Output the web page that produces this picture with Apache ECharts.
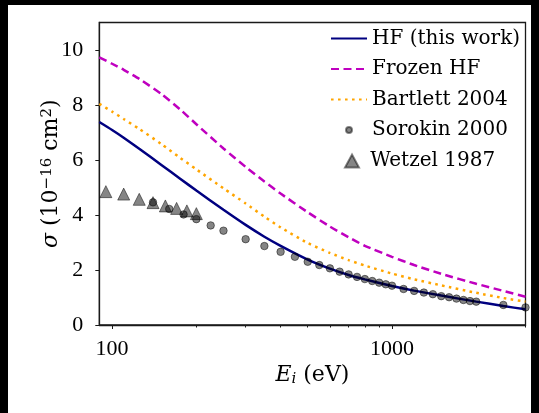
<!DOCTYPE html>
<html><head><meta charset="utf-8">
<script src="https://cdn.jsdelivr.net/npm/echarts@6/dist/echarts.min.js"></script>
<style>
html,body{margin:0;padding:0;background:#000;width:539px;height:413px;overflow:hidden;}
#c{position:absolute;left:8px;top:5px;width:523px;height:408px;background:#fff;}
</style></head><body><div id="c"></div>
<script>
// ---- data ----
const curveE       = [90,100,110,125,150,175,200,250,300,350,400,500,600,700,800,1000,1200,1500,2000,2500,3000];
const hfVals       = [7.38,7.09,6.81,6.41,5.82,5.32,4.89,4.19,3.64,3.21,2.88,2.38,2.05,1.82,1.66,1.42,1.25,1.07,0.85,0.69,0.57];
const frozenVals   = [9.73,9.50,9.28,8.95,8.40,7.84,7.30,6.42,5.75,5.22,4.78,4.10,3.58,3.19,2.88,2.48,2.18,1.86,1.50,1.24,1.03];
const bartlettVals = [8.04,7.76,7.49,7.13,6.58,6.08,5.66,4.97,4.42,3.94,3.55,2.98,2.62,2.36,2.16,1.87,1.66,1.44,1.17,0.98,0.85];
const sorokinE     = [140,160,180,200,225,250,300,350,400,450,500,550,600,650,700,750,800,850,900,950,1000,1100,1200,1300,1400,1500,1600,1700,1800,1900,2000,2500,3000];
const sorokinVals  = [4.46,4.22,4.02,3.85,3.62,3.43,3.12,2.87,2.66,2.48,2.30,2.18,2.06,1.94,1.84,1.75,1.67,1.60,1.54,1.48,1.43,1.31,1.24,1.18,1.12,1.05,1.01,0.96,0.91,0.87,0.85,0.73,0.64];
const wetzelE      = [95,110,125,140,155,170,185,200];
const wetzelVals   = [4.85,4.76,4.57,4.45,4.33,4.24,4.15,4.05];
const xMajorTicks  = [100,1000];
const xMinorTicks  = [200,300,400,500,600,700,800,900,2000,3000];
const yTicks       = [0,2,4,6,8,10];
const names = ['HF (this work)','Frozen HF','Bartlett 2004','Sorokin 2000','Wetzel 1987'];

const zip = (a,b) => a.map((v,i)=>[v,b[i]]);
const serif = 'Liberation Serif';
const lserif = 'DejaVu Serif';
const ink = '#1a1a1a';

const chart = echarts.init(document.getElementById('c'), null, {renderer:'canvas'});
const lineCommon = {type:'line', showSymbol:false, symbol:'none', smooth:0.2, clip:true, z:2};
const markerStyle = {color:'rgba(0,0,0,0.6)', borderColor:'rgba(0,0,0,0.6)', borderWidth:1};
const legendText = {fontFamily:lserif, fontSize:20, color:'#000', lineHeight:21};

chart.setOption({
  backgroundColor:'#fff',
  animation:false,
  grid:{left:91.3, top:17.5, width:426.2, height:302.5, show:true, borderColor:ink, borderWidth:1.3, backgroundColor:'transparent'},
  xAxis:[{
    type:'log', logBase:10, min:90, max:3000, position:'bottom',
    name:'{it|E}{sub|i} (eV)', nameLocation:'middle', nameGap:38, nameMoveOverlap:false,
    nameTextStyle:{fontFamily:lserif, fontSize:22, lineHeight:24, color:'#000',
      rich:{it:{fontFamily:lserif, fontStyle:'italic', fontSize:22, lineHeight:24, color:'#000'},
            sub:{fontFamily:lserif, fontStyle:'italic', fontSize:15, lineHeight:14, color:'#000', verticalAlign:'bottom'}}},
    axisLine:{show:true, lineStyle:{color:ink, width:1.3}},
    axisTick:{show:true, inside:false, length:4, lineStyle:{color:ink, width:1}, customValues:xMajorTicks},
    axisLabel:{show:true, customValues:xMajorTicks, margin:13, fontFamily:serif, fontSize:22, color:'#000', formatter:v=>String(v)},
    splitLine:{show:false}, minorTick:{show:false}
  },{
    type:'log', logBase:10, min:90, max:3000, position:'bottom',
    axisLine:{show:false},
    axisTick:{show:true, inside:false, length:2.5, lineStyle:{color:ink, width:1}, customValues:xMinorTicks},
    axisLabel:{show:false}, splitLine:{show:false}
  }],
  yAxis:{
    type:'value', min:0, max:11,
    name:'{it|σ} (10{sup|−16} cm{sup|2})', nameLocation:'middle', nameGap:36, nameMoveOverlap:false,
    nameTextStyle:{fontFamily:lserif, fontSize:22, lineHeight:24, color:'#000',
      rich:{it:{fontFamily:lserif, fontStyle:'italic', fontSize:22, lineHeight:24, color:'#000'},
            sup:{fontFamily:lserif, fontSize:15, lineHeight:4, color:'#000', verticalAlign:'top'}}},
    axisLine:{show:true, lineStyle:{color:ink, width:1.3}},
    axisTick:{show:true, inside:false, length:4, lineStyle:{color:ink, width:1}, customValues:yTicks},
    axisLabel:{show:true, customValues:yTicks, margin:16, fontFamily:serif, fontSize:22, color:'#000'},
    splitLine:{show:false}
  },
  legend:[{
    data:[
      {name:names[0], itemStyle:{opacity:0}},
      {name:names[1], itemStyle:{opacity:0}},
      {name:names[2], itemStyle:{opacity:0}},
      {name:names[3]}
    ],
    orient:'vertical', left:322, top:23, padding:0,
    itemWidth:36, itemHeight:6, itemGap:9.5,
    textStyle:legendText
  },{
    data:[names[4]], orient:'vertical', left:336, top:145.5, padding:0,
    itemWidth:14, itemHeight:13, itemGap:9,
    formatter:' {name}',
    textStyle:legendText
  }],
  series:[
    Object.assign({}, lineCommon, {name:names[0], data:zip(curveE,hfVals), lineStyle:{color:'#000080', width:2.5, type:'solid'}, itemStyle:{color:'#000080'}}),
    Object.assign({}, lineCommon, {name:names[1], data:zip(curveE,frozenVals), lineStyle:{color:'#bf00bf', width:2.5, type:[8,4.5]}, itemStyle:{color:'#bf00bf'}}),
    Object.assign({}, lineCommon, {name:names[2], data:zip(curveE,bartlettVals), lineStyle:{color:'#ffa500', width:2.5, type:[2.6,4.4], cap:'butt'}, itemStyle:{color:'#ffa500'}}),
    {type:'scatter', name:names[3], data:zip(sorokinE,sorokinVals), symbol:'circle', symbolSize:7.5, itemStyle:markerStyle, z:3},
    {type:'scatter', name:names[4], data:zip(wetzelE,wetzelVals), symbol:'triangle', symbolSize:[12,12], itemStyle:markerStyle, z:3}
  ]
});
</script></body></html>
